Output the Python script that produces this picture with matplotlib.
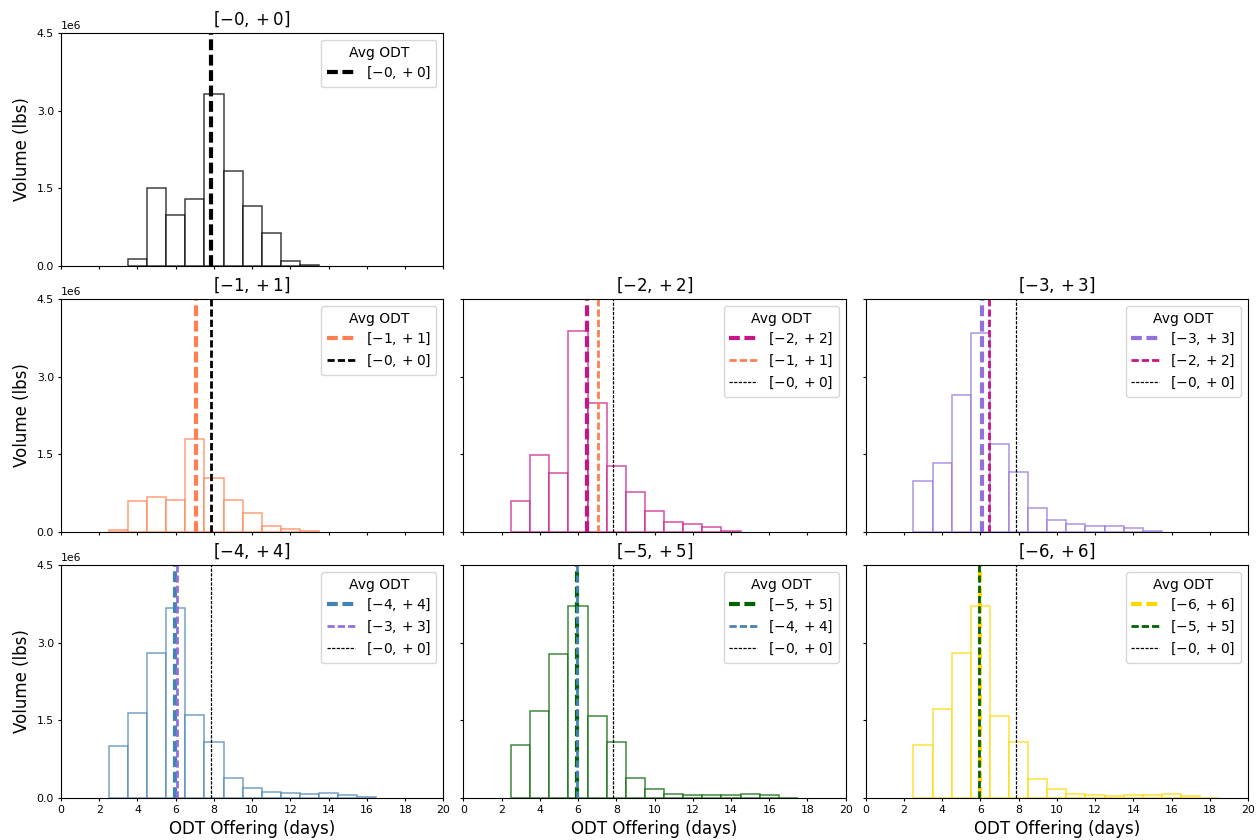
import numpy as np
import matplotlib
matplotlib.use('Agg')
import matplotlib.pyplot as plt

# window labels and colours
windows = [0, 1, 2, 3, 4, 5, 6]
colors = ['black', 'coral', 'mediumvioletred', 'mediumpurple', 'steelblue', 'darkgreen', 'gold']

# average ODT per window (days)
avg_odt = [7.84, 7.05, 6.47, 6.08, 5.97, 5.95, 5.98]

# first bin centre (days) per window, bins are 1 day wide
first_bin = [4, 3, 3, 3, 3, 3, 3]

# volume per bin (millions of lbs)
vol_0 = [0.13, 1.51, 0.98, 1.29, 3.32, 1.83, 1.15, 0.64, 0.09, 0.01]
vol_1 = [0.04, 0.59, 0.68, 0.61, 1.80, 1.05, 0.62, 0.37, 0.12, 0.05, 0.013]
vol_2 = [0.59, 1.48, 1.13, 3.89, 2.50, 1.27, 0.78, 0.41, 0.19, 0.15, 0.10, 0.026]
vol_3 = [0.99, 1.33, 2.65, 3.84, 1.70, 1.16, 0.46, 0.23, 0.16, 0.11, 0.11, 0.08, 0.02]
vol_4 = [1.00, 1.64, 2.80, 3.67, 1.61, 1.08, 0.39, 0.19, 0.11, 0.10, 0.08, 0.10, 0.06, 0.013]
vol_5 = [1.02, 1.69, 2.78, 3.70, 1.59, 1.09, 0.39, 0.18, 0.08, 0.06, 0.06, 0.06, 0.08, 0.05, 0.006]
vol_6 = [1.03, 1.71, 2.80, 3.70, 1.59, 1.09, 0.37, 0.17, 0.08, 0.05, 0.045, 0.06, 0.06, 0.08, 0.03, 0.006]
volumes = [vol_0, vol_1, vol_2, vol_3, vol_4, vol_5, vol_6]

positions = [(0, 0), (1, 0), (1, 1), (1, 2), (2, 0), (2, 1), (2, 2)]

plt.rcParams['xtick.labelsize'] = 7.8
plt.rcParams['ytick.labelsize'] = 7.8
plt.rcParams['xtick.major.size'] = 2.5
plt.rcParams['ytick.major.size'] = 2.5
plt.rcParams['xtick.major.pad'] = 2.5
plt.rcParams['ytick.major.pad'] = 2.5

DASH = (2.6, 1.1)


def label(w):
    return r'$[-%d, +%d]$' % (w, w)


fig, axes = plt.subplots(3, 3, figsize=(12.6, 8.4), dpi=100, sharex=True, sharey=True)
plt.subplots_adjust(left=0.0484, right=0.9905, top=0.9607, bottom=0.05, wspace=0.052, hspace=0.142)

for i, w in enumerate(windows):
    ax = axes[positions[i]]
    vals = np.array(volumes[i]) * 1e6
    centers = first_bin[i] + np.arange(len(vals))
    edges = np.arange(first_bin[i] - 0.5, first_bin[i] + len(vals), 1.0)
    ax.hist(centers, bins=edges, weights=vals, facecolor='white', edgecolor=colors[i],
            linewidth=1.1, alpha=0.75)

    ax.axvline(avg_odt[i], color=colors[i], linestyle='--', dashes=DASH, linewidth=3, label=label(w))
    if i >= 1:
        ax.axvline(avg_odt[i - 1], color=colors[i - 1], linestyle='--', dashes=DASH, linewidth=2,
                   label=label(windows[i - 1]))
    if i >= 2:
        ax.axvline(avg_odt[0], color='black', linestyle='--', dashes=DASH, linewidth=0.9, label=label(0))

    ax.set_title(label(w), fontsize=12)
    ax.legend(title='Avg ODT', loc='upper right', fontsize=10, title_fontsize=10, labelspacing=0.4)

axes[0, 1].axis('off')
axes[0, 2].axis('off')

ax0 = axes[0, 0]
ax0.set_xlim(0, 20)
ax0.set_xticks(np.arange(0, 21, 2))
ax0.set_ylim(0, 4.5e6)
ax0.set_yticks([0, 1.5e6, 3e6, 4.5e6])

for r in range(3):
    axes[r, 0].set_ylabel('Volume (lbs)', fontsize=12)
for c in range(3):
    axes[2, c].set_xlabel('ODT Offering (days)', fontsize=12, labelpad=3.5)

plt.savefig('out.png')
